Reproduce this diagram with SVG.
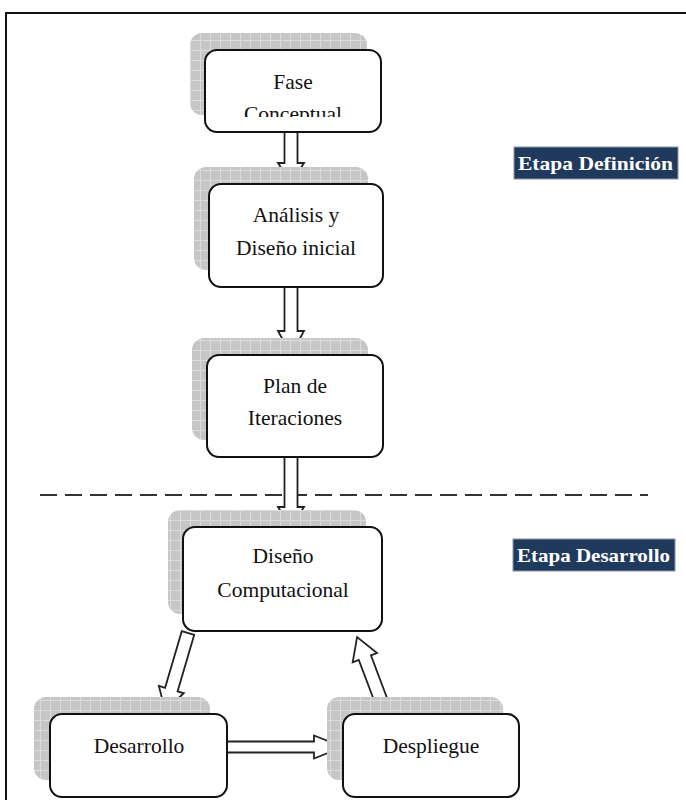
<svg xmlns="http://www.w3.org/2000/svg" width="686" height="800" viewBox="0 0 686 800">
  <defs>
    <pattern id="grid" width="10" height="10" patternUnits="userSpaceOnUse">
      <rect width="10" height="10" fill="#c6c6c6"/>
      <path d="M0 0.5H10M0.5 0V10" stroke="#dcdcdc" stroke-width="1"/>
    </pattern>
    <clipPath id="clipFase"><rect x="205" y="50" width="176" height="67"/></clipPath>
  </defs>
  <style>
    .shadow { fill: url(#grid); }
    .box { fill: #ffffff; stroke: #111111; stroke-width: 2; }
    .txt { font-family: "Liberation Serif", "DejaVu Serif", "Times New Roman", serif; font-size: 21.5px; fill: #111111; text-anchor: middle; }
    .arrow { fill: #ffffff; stroke: #222222; stroke-width: 1.8; stroke-linejoin: miter; }
    .tag { fill: #1f3a5c; stroke: #8a96a6; stroke-width: 1; }
    .tagtxt { font-family: "Liberation Serif", "DejaVu Serif", "Times New Roman", serif; font-size: 19px; font-weight: bold; fill: #ffffff; }
  </style>
  <rect width="686" height="800" fill="#ffffff"/>
  <path d="M6 800V13H686" fill="none" stroke="#111111" stroke-width="2"/>

  <line x1="40" y1="495" x2="648" y2="495" stroke="#333333" stroke-width="2" stroke-dasharray="17 8"/>

  <g id="connectors">
    <polygon class="arrow" transform="translate(291,132) rotate(90)" points="0,-6.5 31,-6.5 31,-13 51,0 31,13 31,6.5 0,6.5"/>
    <polygon class="arrow" transform="translate(291,287) rotate(90)" points="0,-6.5 44,-6.5 44,-13 68,0 44,13 44,6.5 0,6.5"/>
    <polygon class="arrow" transform="translate(291,457) rotate(90)" points="0,-6.5 50,-6.5 50,-13 70,0 50,13 50,6.5 0,6.5"/>
    <polygon class="arrow" transform="translate(188,633) rotate(106.4)" points="0,-6.5 59,-6.5 59,-13 81,0 59,13 59,6.5 0,6.5"/>
    <polygon class="arrow" transform="translate(227,747) rotate(0)" points="0,-5.5 87,-5.5 87,-11.5 116,0 87,11.5 87,5.5 0,5.5"/>
    <polygon class="arrow" transform="translate(385,711) rotate(-110.7)" points="0,-6.5 57,-6.5 57,-13 79,0 57,13 57,6.5 0,6.5"/>
  </g>

  <g id="fase">
    <rect class="shadow" x="190" y="33" width="177" height="82" rx="12"/>
    <rect class="box" x="205" y="50" width="176" height="82" rx="12"/>
    <g clip-path="url(#clipFase)">
      <text class="txt" x="293" y="89">Fase</text>
      <text class="txt" x="293" y="121">Conceptual</text>
    </g>
  </g>

  <g id="analisis">
    <rect class="shadow" x="194" y="167" width="174" height="103" rx="12"/>
    <rect class="box" x="209" y="184" width="174" height="103" rx="12"/>
    <text class="txt" x="296" y="222">Análisis y</text>
    <text class="txt" x="296" y="255">Diseño inicial</text>
  </g>

  <g id="plan">
    <rect class="shadow" x="192" y="338" width="176" height="102" rx="12"/>
    <rect class="box" x="207" y="355" width="176" height="102" rx="12"/>
    <text class="txt" x="295" y="393">Plan de</text>
    <text class="txt" x="295" y="425">Iteraciones</text>
  </g>

  <g id="diseno">
    <rect class="shadow" x="168" y="510" width="198" height="104" rx="12"/>
    <rect class="box" x="183" y="527" width="199" height="104" rx="12"/>
    <text class="txt" x="283" y="563">Diseño</text>
    <text class="txt" x="283" y="597">Computacional</text>
  </g>

  <g id="desarrollo">
    <rect class="shadow" x="34" y="697" width="176" height="83" rx="12"/>
    <rect class="box" x="50" y="714" width="177" height="83" rx="12"/>
    <text class="txt" x="139" y="753">Desarrollo</text>
  </g>

  <g id="despliegue">
    <rect class="shadow" x="327" y="697" width="176" height="83" rx="12"/>
    <rect class="box" x="343" y="714" width="176" height="83" rx="12"/>
    <text class="txt" x="431" y="753">Despliegue</text>
  </g>

  <g id="etapa-definicion">
    <rect class="tag" x="514" y="147" width="164" height="32"/>
    <text class="tagtxt" x="518" y="170" textLength="155" lengthAdjust="spacingAndGlyphs">Etapa Definición</text>
  </g>

  <g id="etapa-desarrollo">
    <rect class="tag" x="513" y="539" width="162" height="32"/>
    <text class="tagtxt" x="517" y="562" textLength="153" lengthAdjust="spacingAndGlyphs">Etapa Desarrollo</text>
  </g>
</svg>
